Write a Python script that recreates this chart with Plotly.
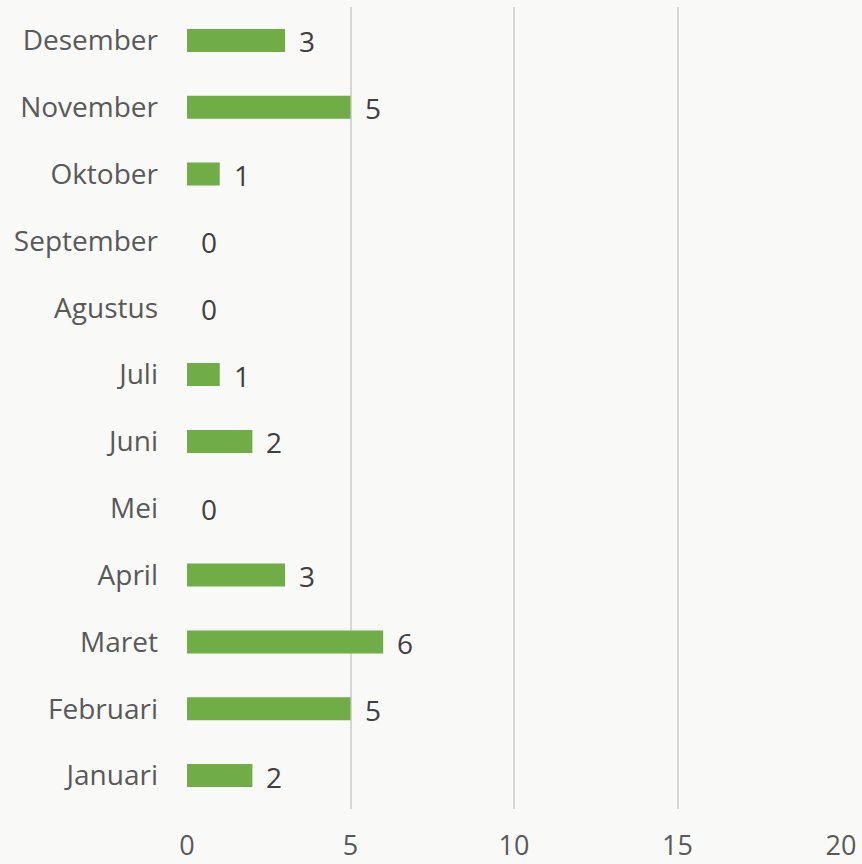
import plotly.graph_objects as go

months = ["Januari", "Februari", "Maret", "April", "Mei", "Juni", "Juli",
          "Agustus", "September", "Oktober", "November", "Desember"]
values = [2, 5, 6, 3, 0, 2, 1, 0, 0, 1, 5, 3]
x_ticks = [0, 5, 10, 15, 20]

FONT = "Open Sans"
BG = "#f9f9f8"

fig = go.Figure(go.Bar(
    x=values, y=months, orientation="h",
    marker=dict(color="#70ad47", line=dict(width=0)),
    width=0.345,
    hoverinfo="x+y",
))

for m, v in zip(months, values):
    fig.add_annotation(
        x=v, y=m, text=str(v), showarrow=False,
        xanchor="left", yanchor="middle", xshift=12, yshift=-1,
        font=dict(family=FONT, size=28, color="#404040"),
    )

fig.update_layout(
    width=862, height=864,
    margin=dict(l=187, r=21, t=7, b=55, autoexpand=False),
    paper_bgcolor=BG,
    plot_bgcolor=BG,
    showlegend=False,
    xaxis=dict(range=[0, 20], tickvals=x_ticks, showgrid=True,
               gridcolor="#d6d6d6", gridwidth=1.5, zeroline=False,
               showline=False, ticks="", automargin=False,
               ticklabelstandoff=18,
               tickfont=dict(family=FONT, size=27, color="#595959")),
    yaxis=dict(categoryorder="array", categoryarray=months,
               showgrid=False, ticks="", showline=False, automargin=False,
               ticklabelstandoff=28,
               tickfont=dict(family=FONT, size=28, color="#595959")),
)

fig.write_html("out.html",
               config={"displayModeBar": False},
               post_script="document.body.style.margin='0';"
                           "document.body.style.background='" + BG + "';")
